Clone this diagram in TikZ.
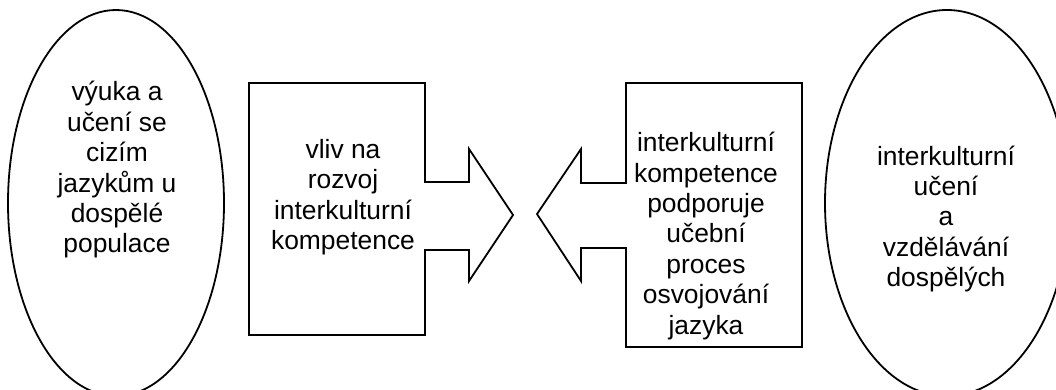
\documentclass[tikz,border=0pt]{standalone}
\usepackage{fontspec}
\setmainfont{Liberation Sans}
\usetikzlibrary{shapes.geometric}

\tikzstyle{blob}=[draw,line width=0.9pt,ellipse,inner sep=0pt,minimum height=193pt]
\tikzstyle{outline}=[draw,line width=0.9pt,line join=miter]
\tikzstyle{words}=[align=center,inner sep=0pt,font=\fontsize{13.2}{15.2}\selectfont]
\newcommand{\pxscale}{0.5pt}

\begin{document}
\begin{tikzpicture}[x=\pxscale, y=-\pxscale]
    % The page, the ovals run past its edges
    \clip (0,0) rectangle (1056,390);
    % First the two ovals
    \node[blob, minimum width=108pt] (teach) at (116,203) {};
    \node[blob, minimum width=122pt] (adult) at (947,203) {};
    % Box with an arrow to the right
    \path[outline] (249,83) -- (425,83) -- (425,182) -- (469,182) -- (469,149)
        -- (513,215) -- (469,281) -- (469,250) -- (425,250) -- (425,335)
        -- (249,335) -- cycle;
    % Box with an arrow to the left
    \path[outline] (802,83) -- (626,83) -- (626,183) -- (581,183) -- (581,149)
        -- (537,214) -- (581,281) -- (581,248) -- (626,248) -- (626,347)
        -- (802,347) -- cycle;
    % Then the texts
    \node[words] (teachtext) at (117,170) {výuka a\\učení se\\cizím\\jazykům u\\dospělé\\populace};
    \node[words] (growtext) at (343,197) {vliv na\\rozvoj\\interkulturní\\kompetence};
    \node[words] (helptext) at (706,236) {interkulturní\\kompetence\\podporuje\\učební\\proces\\osvojování\\jazyka};
    \node[words] (adulttext) at (946,219) {interkulturní\\učení\\a\\vzdělávání\\dospělých};
\end{tikzpicture}
\end{document}
